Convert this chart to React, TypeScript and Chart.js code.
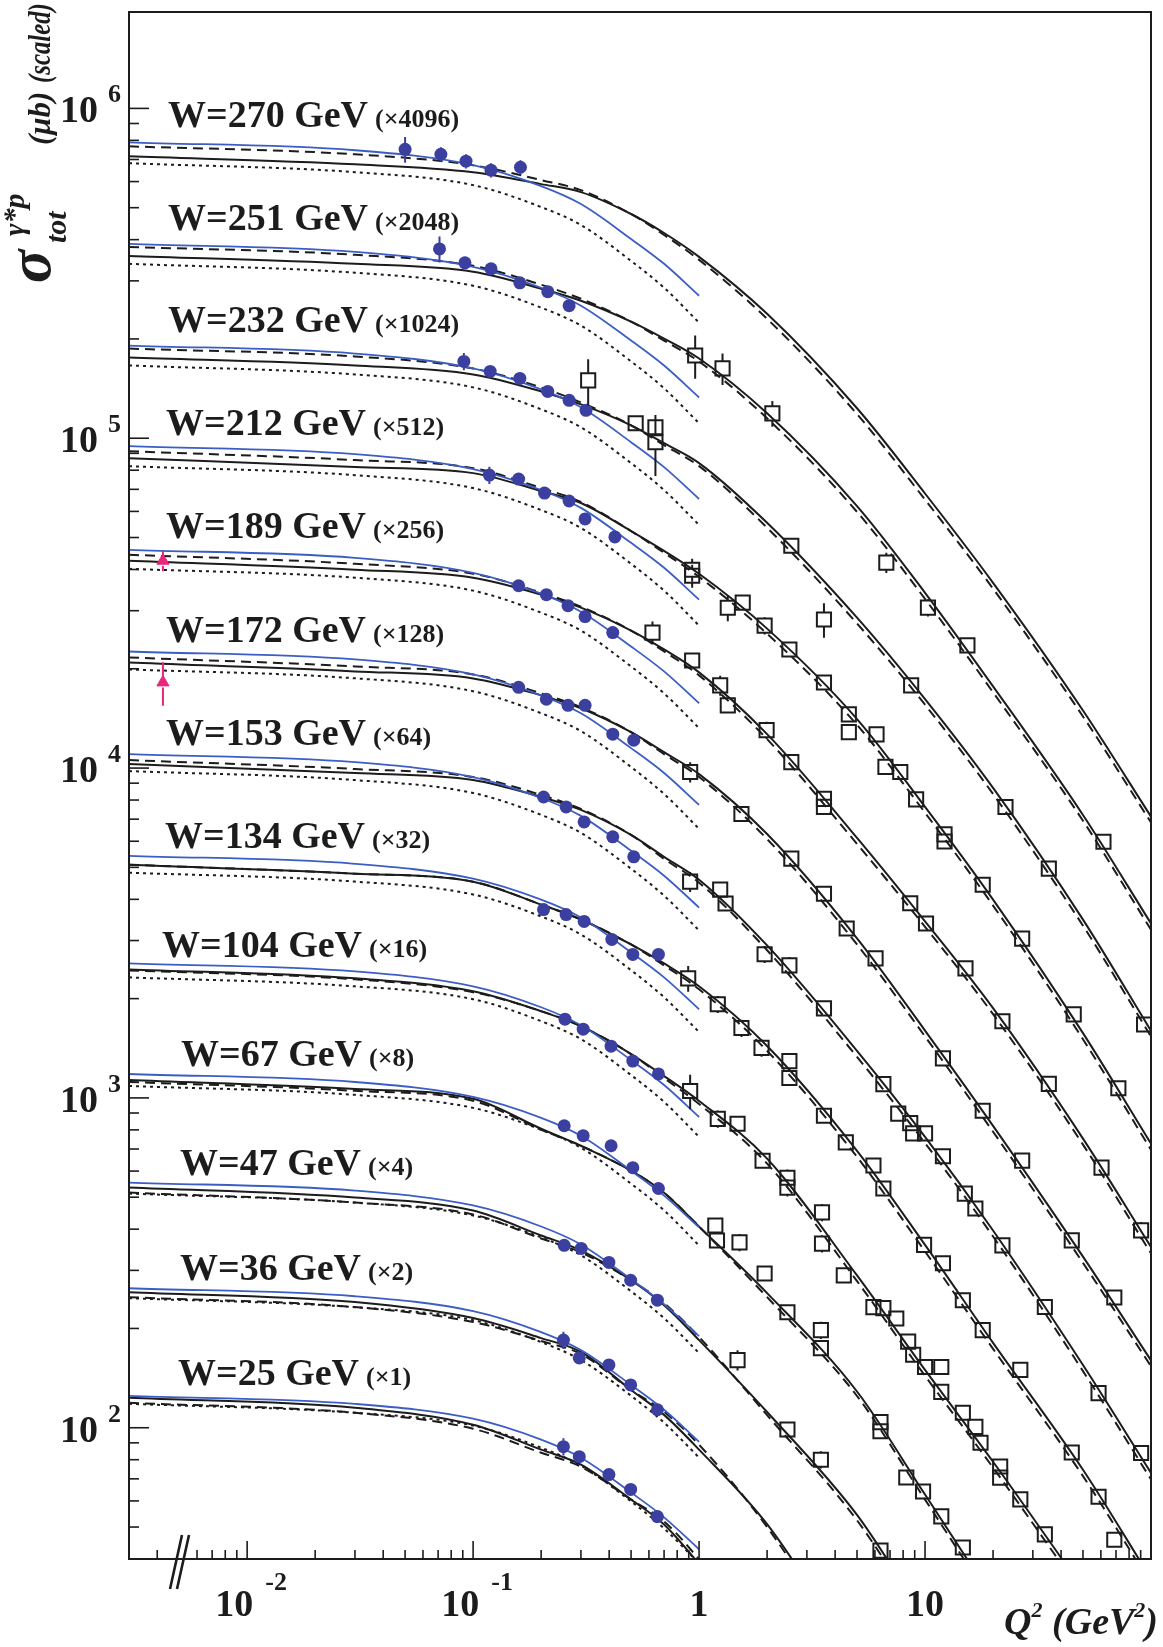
import React, { useEffect, useRef } from "react";
import { Chart, registerables } from "chart.js";

Chart.register(...registerables);

// ---------------- data (σ in μb, unscaled; plotted × scale factor) ----------------
const W_VALUES = [270, 251, 232, 212, 189, 172, 153, 134, 104, 67, 47, 36, 25];
const SCALE_FACTORS = [4096, 2048, 1024, 512, 256, 128, 64, 32, 16, 8, 4, 2, 1];

const Q2_CURVE = [0.003, 0.03, 0.1, 0.2, 0.3, 0.5, 0.7, 1, 2, 5, 10, 20, 50, 100];
const Q2_LOW = [0.003, 0.03, 0.1, 0.2, 0.3, 0.5, 0.7, 1];

// black solid model
const SOLID = [
  [174.8, 165.3, 156.4, 143.9, 136.1, 116.8, 102.3, 86.6, 58.2, 30.1, 16.6, 8.9, 3.65, 1.74],
  [174.4, 165.0, 156.1, 138.7, 127.5, 110.2, 97.9, 85.2, 58.1, 30.4, 16.6, 8.64, 3.52, 1.65],
  [171.5, 162.3, 152.4, 135.4, 123.7, 106.9, 94.3, 82.1, 54.1, 27.9, 15.8, 8.5, 3.39, 1.56],
  [169.9, 159.7, 153.1, 135.1, 124.3, 102.2, 89.0, 75.8, 51.7, 27.5, 14.9, 7.8, 3.07, 1.42],
  [166.1, 156.0, 147.5, 131.1, 119.7, 102.0, 89.4, 76.2, 49.5, 24.0, 13.4, 7.31, 2.94, 1.38],
  [163.3, 153.4, 146.1, 129.8, 118.6, 100.4, 87.3, 74.9, 49.3, 23.8, 12.5, 6.43, 2.58, 1.25],
  [160.7, 150.9, 143.8, 127.7, 116.7, 98.0, 84.1, 71.7, 45.3, 21.7, 11.9, 6.19, 2.42, 1.14],
  [159.2, 149.5, 141.4, 120.5, 108.6, 91.2, 79.9, 68.1, 44.9, 21.6, 11.2, 5.65, 2.33, 1.09],
  [153.3, 144.0, 131.6, 114.5, 103.1, 84.9, 72.8, 61.2, 40.9, 18.1, 9.36, 4.93, 2.03],
  [141.7, 133.1, 124.2, 100.8, 89.5, 75.2, 64.5, 50.9, 32.0, 16.1, 7.84, 3.78],
  [133.7, 124.7, 113.9, 95.7, 86.2, 70.0, 58.8, 46.1, 27.9, 13.6, 6.58],
  [128.8, 120.2, 107.5, 93.5, 84.9, 65.1, 54.7, 42.9, 25.5, 9.96],
  [123.2, 114.9, 102.1, 85.8, 77.3, 60.6, 50.9, 38.6, 21.3],
];

// black dashed model
const DASHED = [
  [187.4, 177.2, 164.2, 148.0, 138.0, 116.8, 100.9, 84.8, 56.2, 28.9, 15.9, 8.54, 3.5, 1.67],
  [185.7, 175.7, 162.7, 142.6, 129.3, 110.2, 96.5, 83.4, 56.1, 29.2, 15.9, 8.29, 3.38, 1.58],
  [182.6, 172.8, 158.9, 139.2, 125.4, 106.9, 93.0, 80.4, 52.3, 26.8, 15.2, 8.15, 3.25, 1.5],
  [178.4, 167.7, 158.5, 138.0, 125.2, 102.2, 87.8, 74.2, 49.9, 26.4, 14.3, 7.48, 2.94, 1.36],
  [173.2, 162.6, 151.7, 132.9, 120.5, 102.0, 88.2, 74.6, 47.8, 23.0, 12.9, 7.01, 2.82, 1.32],
  [169.1, 158.8, 150.2, 131.6, 119.4, 100.4, 86.1, 73.4, 47.6, 22.8, 12.0, 6.17, 2.47, 1.2],
  [165.2, 155.2, 146.8, 129.5, 117.5, 98.0, 82.9, 70.2, 43.8, 20.8, 11.4, 5.94, 2.32, 1.09],
  [159.2, 149.5, 141.4, 120.5, 108.6, 91.2, 78.8, 66.7, 43.4, 20.7, 10.7, 5.42, 2.23, 1.05],
  [152.2, 143.0, 130.7, 114.5, 103.1, 84.9, 71.8, 59.9, 39.5, 17.4, 8.98, 4.73, 1.95],
  [139.7, 131.3, 122.5, 100.1, 89.5, 75.2, 64.5, 50.9, 31.1, 15.6, 7.57, 3.65],
  [129.1, 120.4, 110.8, 93.7, 85.0, 70.0, 59.6, 47.1, 27.3, 13.1, 6.36],
  [124.4, 116.1, 104.6, 91.6, 83.7, 65.1, 55.9, 44.4, 25.0, 9.62],
  [119.0, 111.0, 99.3, 84.0, 76.2, 60.6, 52.0, 39.9, 21.7],
];

// blue model (Q2 <= 1)
const BLUE = [
  [192.7, 182.3, 164.3, 141.9, 125.2, 98.1, 82.5, 66.0],
  [189.6, 179.3, 161.6, 139.6, 123.2, 96.6, 81.1, 64.9],
  [186.5, 176.4, 159.0, 137.3, 121.2, 95.0, 79.8, 63.9],
  [184.8, 174.8, 157.5, 136.1, 120.1, 94.1, 79.1, 63.3],
  [179.2, 169.5, 152.7, 132.0, 116.4, 91.3, 76.7, 61.4],
  [176.3, 166.8, 150.3, 129.8, 114.5, 89.8, 75.5, 60.4],
  [172.2, 162.9, 146.8, 126.8, 111.9, 87.7, 73.7, 59.0],
  [169.4, 160.2, 144.4, 124.7, 110.1, 86.3, 72.5, 58.0],
  [159.8, 151.2, 136.2, 117.7, 103.8, 81.4, 68.4, 54.7],
  [147.7, 139.7, 125.9, 108.8, 96.0, 75.2, 63.2, 50.6],
  [138.4, 130.9, 118.0, 101.9, 89.9, 70.5, 59.2, 47.4],
  [132.4, 125.2, 112.9, 97.5, 86.0, 67.4, 56.7, 45.3],
  [124.9, 118.1, 106.5, 92.0, 81.1, 63.6, 53.5, 42.8],
];

// black dotted model (Q2 <= 1)
const DOTTED = [
  [166.5, 156.4, 142.9, 122.6, 108.2, 84.2, 69.8, 54.7],
  [165.0, 155.0, 141.6, 121.5, 107.2, 83.5, 69.2, 54.2],
  [162.3, 152.4, 139.3, 119.5, 105.4, 82.1, 68.0, 53.3],
  [160.7, 150.9, 137.9, 118.3, 104.4, 81.3, 67.4, 52.8],
  [157.0, 147.5, 134.8, 115.6, 102.0, 79.4, 65.8, 51.6],
  [155.6, 146.2, 133.6, 114.6, 101.1, 78.7, 65.2, 51.1],
  [153.0, 143.7, 131.3, 112.7, 99.4, 77.4, 64.1, 50.3],
  [150.6, 141.5, 129.3, 110.9, 97.8, 76.2, 63.1, 49.5],
  [145.0, 136.2, 124.5, 106.8, 94.2, 73.3, 60.8, 47.6],
  [135.9, 127.7, 116.6, 100.1, 88.3, 68.7, 57.0, 44.6],
  [128.2, 120.4, 110.0, 94.4, 83.3, 64.8, 53.7, 42.1],
  [123.5, 116.0, 106.0, 90.9, 80.2, 62.5, 51.8, 40.6],
  [118.2, 111.0, 101.5, 87.0, 76.8, 59.8, 49.5, 38.8],
];

// low-Q2 measurements (filled blue circles)
const DOT_Q2 = [
  [0.05, 0.072, 0.093, 0.12, 0.162],
  [0.071, 0.092, 0.12, 0.161, 0.214, 0.266],
  [0.091, 0.119, 0.161, 0.214, 0.266, 0.316],
  [0.118, 0.159, 0.207, 0.266, 0.313, 0.424],
  [0.159, 0.211, 0.263, 0.313, 0.415],
  [0.159, 0.211, 0.263, 0.313, 0.415, 0.514],
  [0.205, 0.258, 0.31, 0.415, 0.514],
  [0.205, 0.258, 0.31, 0.411, 0.509, 0.661],
  [0.255, 0.307, 0.408, 0.509, 0.661],
  [0.253, 0.307, 0.408, 0.509, 0.661],
  [0.253, 0.301, 0.399, 0.498, 0.654],
  [0.251, 0.295, 0.399, 0.498, 0.654],
  [0.251, 0.295, 0.399, 0.498, 0.654],
];
const DOT_SIGMA = [
  [183.5, 177.3, 168.9, 158.6, 161.9],
  [183.1, 166.1, 159.3, 144.5, 135.8, 123.2],
  [166.9, 155.7, 148.3, 135.4, 127.2, 118.7],
  [151.0, 146.9, 133.2, 126.0, 111.2, 98.1],
  [139.5, 131.1, 121.4, 112.5, 100.6],
  [137.3, 126.3, 121.1, 121.1, 99.0, 94.9],
  [127.7, 119.1, 107.3, 96.7, 84.1],
  [116.4, 112.4, 107.1, 94.5, 85.1, 85.1],
  [108.3, 101.0, 89.7, 80.8, 73.9],
  [102.9, 96.0, 89.5, 76.8, 66.4],
  [89.3, 87.4, 79.3, 70.0, 60.9],
  [92.2, 81.4, 77.5, 67.4, 56.7],
  [87.6, 81.7, 72.1, 65.0, 53.8],
];
const DOT_ERR = [
  [0.09, 0.05, 0.05, 0.05, 0.05],
  [0.09, 0.03, 0.03, 0.03, 0.03, 0.03],
  [0.06, 0.03, 0.03, 0.03, 0.03, 0.03],
  [0.06, 0.03, 0.03, 0.03, 0.03, 0.03],
  [0.03, 0.03, 0.03, 0.03, 0.03],
  [0.03, 0.03, 0.03, 0.03, 0.03, 0.03],
  [0.03, 0.03, 0.03, 0.03, 0.03],
  [0.03, 0.03, 0.03, 0.03, 0.03, 0.03],
  [0.03, 0.03, 0.03, 0.03, 0.03],
  [0.03, 0.03, 0.03, 0.03, 0.03],
  [0.03, 0.03, 0.03, 0.03, 0.03],
  [0.06, 0.03, 0.03, 0.03, 0.03],
  [0.06, 0.03, 0.03, 0.03, 0.03],
];

// higher-Q2 measurements (open squares): [Q2, sigma, relative error]
const SQUARES = [
  [],
  [[0.961, 87.0, 0.15], [1.27, 79.5, 0.11], [2.11, 58.1, 0.09], [6.74, 20.5, 0.07], [10.3, 14.96, 0.06], [15.4, 11.5, 0.05], [61.6, 2.92, 0.05]],
  [[0.323, 146.2, 0.16], [0.524, 108.4, 0.05], [0.641, 105.4, 0.05], [0.641, 94.97, 0.21], [2.56, 46.1, 0.05], [8.68, 17.4, 0.05], [22.7, 7.44, 0.05], [35.3, 4.84, 0.05], [93.2, 1.63, 0.05]],
  [[0.932, 78.0, 0.08], [0.932, 74.8, 0.08], [1.34, 59.8, 0.09], [1.56, 62.0, 0.05], [1.95, 52.8, 0.06], [2.51, 44.7, 0.05], [3.57, 55.1, 0.12], [3.57, 35.5, 0.05], [4.6, 28.4, 0.05], [4.6, 25.1, 0.05], [6.1, 24.7, 0.05], [6.68, 19.7, 0.05], [7.77, 19.0, 0.05], [9.13, 15.7, 0.05], [12.2, 12.3, 0.05], [12.2, 11.7, 0.05], [18.0, 8.65, 0.05], [26.9, 5.94, 0.05], [45.5, 3.5, 0.05], [71.7, 2.09, 0.05]],
  [[0.622, 100.6, 0.08], [0.932, 82.8, 0.05], [1.24, 69.6, 0.07], [1.34, 60.5, 0.05], [1.99, 50.9, 0.06], [2.56, 40.7, 0.05], [3.57, 31.5, 0.05], [3.57, 29.8, 0.05], [8.6, 15.2, 0.05], [10.1, 13.2, 0.05], [15.1, 9.65, 0.05], [22.0, 6.67, 0.05], [35.3, 4.31, 0.05], [60.4, 2.4, 0.05], [90.4, 1.55, 0.06]],
  [[0.913, 76.0, 0.07], [1.54, 56.7, 0.05], [2.56, 41.5, 0.05], [3.57, 32.5, 0.05], [4.5, 25.5, 0.05], [6.04, 20.7, 0.05], [12.0, 10.3, 0.05], [18.0, 7.14, 0.05], [26.9, 5.04, 0.05], [44.6, 2.89, 0.05], [68.8, 1.94, 0.05]],
  [[0.913, 70.7, 0.07], [1.24, 66.9, 0.05], [1.31, 60.7, 0.05], [1.95, 42.6, 0.06], [2.51, 39.4, 0.06], [3.57, 29.2, 0.05], [6.54, 17.2, 0.05], [7.61, 14.0, 0.05], [8.6, 13.1, 0.05], [8.86, 12.2, 0.05], [10.0, 12.2, 0.05], [12.0, 10.4, 0.05], [15.0, 8.01, 0.05], [16.7, 7.22, 0.05], [22.0, 5.58, 0.05], [33.9, 3.63, 0.05], [58.6, 1.99, 0.05], [90.4, 1.31, 0.05]],
  [[0.895, 72.0, 0.09], [1.21, 60.1, 0.06], [1.54, 50.9, 0.06], [1.89, 44.3, 0.06], [2.51, 40.4, 0.05], [2.51, 35.9, 0.05], [3.57, 27.6, 0.05], [4.46, 22.9, 0.05], [5.91, 19.5, 0.05], [6.54, 16.6, 0.05], [9.9, 11.2, 0.05], [12.0, 9.85, 0.05], [14.7, 7.61, 0.05], [18.0, 6.18, 0.05], [26.4, 4.68, 0.05], [44.6, 2.63, 0.05], [58.6, 1.93, 0.05], [68.8, 1.43, 0.05]],
  [[0.913, 65.6, 0.12], [1.21, 54.0, 0.06], [1.48, 52.2, 0.05], [1.91, 40.3, 0.05], [2.46, 35.8, 0.06], [2.46, 33.4, 0.06], [3.5, 28.1, 0.06], [3.5, 22.6, 0.06], [4.37, 18.1, 0.05], [5.91, 14.5, 0.05], [6.54, 14.4, 0.05], [7.46, 13.4, 0.05], [8.42, 11.4, 0.05], [8.86, 10.4, 0.05], [10.0, 9.55, 0.05], [11.8, 9.55, 0.05], [11.8, 8.03, 0.05], [14.7, 6.94, 0.05], [16.7, 6.29, 0.05], [17.6, 5.63, 0.05], [21.5, 4.77, 0.05], [21.5, 4.41, 0.05], [26.4, 3.79, 0.05], [33.9, 2.97, 0.05]],
  [[1.18, 51.3, 0.05], [1.2, 46.2, 0.05], [1.51, 45.6, 0.06], [1.95, 36.7, 0.05], [2.46, 28.0, 0.05], [3.46, 24.7, 0.06], [3.46, 21.8, 0.05], [6.35, 13.0, 0.05], [6.35, 12.2, 0.05], [8.26, 8.83, 0.05], [9.8, 8.01, 0.05], [11.8, 6.73, 0.05], [14.7, 5.42, 0.05]],
  [[1.48, 40.1, 0.07], [2.46, 24.7, 0.05], [3.46, 20.0, 0.06], [6.35, 10.6, 0.05]],
  [],
  [],
];

// photoproduction points (pink triangles): [W index, Q2 position, sigma, relative error]
const PHOTO_POINTS = [
  [4, 0.00424, 166.1, 0.07],
  [5, 0.00424, 142.1, 0.15],
];

// axis settings
const X_MIN = 0.003;
const X_MAX = 100;
const Y_MIN = 40;
const Y_MAX = 1.96e6;
const X_TICK_LABELS = [
  { v: 0.01, base: "10", exp: "-2" },
  { v: 0.1, base: "10", exp: "-1" },
  { v: 1, base: "1", exp: "" },
  { v: 10, base: "10", exp: "" },
];
const Y_TICK_EXPONENTS = [2, 3, 4, 5, 6];

// ---------------- layout / style ----------------
const W_LABEL_X = [168, 168, 168, 166, 166, 166, 166, 165, 162, 181, 180, 180, 178];
const W_LABEL_BASELINE = [127, 230, 332, 435, 538, 642, 745, 848, 957, 1066, 1175, 1280, 1385];
const FONT = '"Liberation Serif", "Times New Roman", serif';
const INK = "#1c1c1c";
const DOT_COLOR = "#3b3f9f";
const BLUE_LINE = "#3c5ec4";
const PINK = "#e8267c";

const decorPlugin = {
  id: "decor",
  afterDatasetsDraw(chart: any) {
    const ctx = chart.ctx;
    const ys = chart.scales.y;
    const { left, right, top, bottom } = chart.chartArea;
    ctx.save();
    ctx.beginPath();
    ctx.rect(left, top, right - left, bottom - top);
    ctx.clip();
    chart.data.datasets.forEach((ds: any, di: number) => {
      if (!ds.errFrac) return;
      const meta = chart.getDatasetMeta(di);
      ctx.strokeStyle = ds.errColor || INK;
      ctx.lineWidth = 2;
      meta.data.forEach((pt: any, j: number) => {
        const e = ds.errFrac[j];
        if (!e) return;
        const val = ds.data[j].y;
        const yHi = ys.getPixelForValue(val * (1 + e));
        const yLo = ys.getPixelForValue(val * (1 - e));
        const h = ds.markerHalf || 0;
        ctx.beginPath();
        if (pt.y - h > yHi) {
          ctx.moveTo(pt.x, pt.y - h);
          ctx.lineTo(pt.x, yHi);
        }
        if (yLo > pt.y + h) {
          ctx.moveTo(pt.x, pt.y + h);
          ctx.lineTo(pt.x, yLo);
        }
        ctx.stroke();
      });
    });
    ctx.restore();
  },
  afterDraw(chart: any) {
    const ctx = chart.ctx;
    const xs = chart.scales.x;
    const ys = chart.scales.y;
    const { left, right, top, bottom } = chart.chartArea;
    ctx.save();
    ctx.strokeStyle = INK;
    ctx.fillStyle = INK;
    // frame
    ctx.lineWidth = 2;
    ctx.strokeRect(left, top, right - left, bottom - top);
    // ticks
    ctx.lineWidth = 1.6;
    for (let e = -3; e <= 2; e++) {
      for (let m = 1; m <= 9; m++) {
        const v = m * Math.pow(10, e);
        if (v < X_MIN * 1.001 || v > X_MAX * 0.999) continue;
        if (Math.abs(v - 0.005) < 1e-9) continue; // hidden by the axis break
        const px = xs.getPixelForValue(v);
        const len = m === 1 ? 18 : 9;
        ctx.beginPath();
        ctx.moveTo(px, bottom);
        ctx.lineTo(px, bottom - len);
        ctx.stroke();
      }
    }
    for (let e = 1; e <= 6; e++) {
      for (let m = 1; m <= 9; m++) {
        const v = m * Math.pow(10, e);
        if (v < Y_MIN * 1.001 || v > Y_MAX * 0.999) continue;
        const py = ys.getPixelForValue(v);
        const len = m === 1 ? 20 : 10;
        ctx.beginPath();
        ctx.moveTo(left, py);
        ctx.lineTo(left + len, py);
        ctx.stroke();
      }
    }
    // axis break "//"
    ctx.lineWidth = 2.6;
    ctx.beginPath();
    ctx.moveTo(170, bottom + 30);
    ctx.lineTo(182, bottom - 24);
    ctx.moveTo(177, bottom + 30);
    ctx.lineTo(189, bottom - 24);
    ctx.stroke();

    // y tick labels
    ctx.textBaseline = "alphabetic";
    Y_TICK_EXPONENTS.forEach((e) => {
      const py = ys.getPixelForValue(Math.pow(10, e));
      ctx.font = `bold 38px ${FONT}`;
      ctx.textAlign = "right";
      ctx.fillText("10", 98, py + 14);
      ctx.font = `bold 26px ${FONT}`;
      ctx.textAlign = "left";
      ctx.fillText(String(e), 108, py - 6);
    });
    // x tick labels
    X_TICK_LABELS.forEach((t) => {
      const px = xs.getPixelForValue(t.v);
      ctx.textAlign = "left";
      ctx.font = `bold 38px ${FONT}`;
      const wb = ctx.measureText(t.base).width;
      if (t.exp) {
        ctx.font = `bold 26px ${FONT}`;
        const we = ctx.measureText(t.exp).width;
        const total = wb + 12 + we;
        const x0 = px + 4 - total / 2;
        ctx.font = `bold 38px ${FONT}`;
        ctx.fillText(t.base, x0, bottom + 57);
        ctx.font = `bold 26px ${FONT}`;
        ctx.fillText(t.exp, x0 + wb + 12, bottom + 31);
      } else {
        ctx.fillText(t.base, px - wb / 2, bottom + 57);
      }
    });
    // x title: Q^2 (GeV^2)
    {
      const parts = [
        { t: "Q", f: `bold italic 38px ${FONT}`, dy: 0 },
        { t: "2", f: `bold italic 22px ${FONT}`, dy: -17 },
        { t: " (GeV", f: `bold italic 38px ${FONT}`, dy: 0 },
        { t: "2", f: `bold italic 22px ${FONT}`, dy: -17 },
        { t: ")", f: `bold italic 38px ${FONT}`, dy: 0 },
      ];
      let total = 0;
      parts.forEach((p) => {
        ctx.font = p.f;
        total += ctx.measureText(p.t).width;
      });
      let x = 1158 - total;
      ctx.textAlign = "left";
      parts.forEach((p) => {
        ctx.font = p.f;
        ctx.fillText(p.t, x, bottom + 75 + p.dy);
        x += ctx.measureText(p.t).width;
      });
    }
    // y title (rotated, reads bottom to top)
    {
      ctx.save();
      ctx.translate(50, 283);
      ctx.rotate(-Math.PI / 2);
      ctx.textAlign = "left";
      ctx.font = `bold italic 62px ${FONT}`;
      ctx.fillText("σ", 0, 0);
      ctx.font = `bold italic 30px ${FONT}`;
      ctx.fillText("γ*p", 47, -26);
      ctx.fillText("tot", 40, 16);
      ctx.font = `bold italic 31px ${FONT}`;
      ctx.fillText("(μb)", 138, 0);
      ctx.save();
      ctx.translate(200, 0);
      ctx.scale(0.8, 1);
      ctx.fillText("(scaled)", 0, 0);
      ctx.restore();
      ctx.restore();
    }
    // W labels
    W_VALUES.forEach((w, i) => {
      ctx.textAlign = "left";
      ctx.font = `bold 38px ${FONT}`;
      const txt = `W=${w} GeV`;
      ctx.fillText(txt, W_LABEL_X[i], W_LABEL_BASELINE[i]);
      const wt = ctx.measureText(txt).width;
      ctx.font = `bold 26px ${FONT}`;
      ctx.fillText(`(×${SCALE_FACTORS[i]})`, W_LABEL_X[i] + wt + 7, W_LABEL_BASELINE[i]);
    });
    ctx.restore();
  },
};

export default function App() {
  const ref = useRef<HTMLCanvasElement>(null);

  useEffect(() => {
    const canvas = ref.current;
    if (!canvas) return;
    const datasets: any[] = [];
    W_VALUES.forEach((w, i) => {
      const s = SCALE_FACTORS[i];
      const curve = (vals: number[], q: number[], extra: any) => ({
        data: vals.map((v, j) => ({ x: q[j], y: v * s })),
        showLine: true,
        pointRadius: 0,
        pointHoverRadius: 0,
        pointHitRadius: 0,
        fill: false,
        cubicInterpolationMode: "monotone",
        ...extra,
      });
      datasets.push(curve(DOTTED[i], Q2_LOW, { label: `dotted ${w}`, borderColor: INK, borderWidth: 2, borderDash: [3, 4], order: 5 }));
      datasets.push(curve(DASHED[i], Q2_CURVE, { label: `dashed ${w}`, borderColor: INK, borderWidth: 2, borderDash: [10, 6], order: 4 }));
      datasets.push(curve(SOLID[i], Q2_CURVE, { label: `solid ${w}`, borderColor: INK, borderWidth: 2, order: 3 }));
      datasets.push(curve(BLUE[i], Q2_LOW, { label: `blue ${w}`, borderColor: BLUE_LINE, borderWidth: 1.8, order: 2 }));
      datasets.push({
        label: `low-Q2 data ${w}`,
        data: DOT_Q2[i].map((q, j) => ({ x: q, y: DOT_SIGMA[i][j] * s })),
        showLine: false,
        pointStyle: "circle",
        pointRadius: 6.5,
        pointHoverRadius: 6.5,
        pointBackgroundColor: DOT_COLOR,
        pointBorderColor: DOT_COLOR,
        pointBorderWidth: 0,
        order: 1,
        errFrac: DOT_ERR[i],
        markerHalf: 6,
        errColor: DOT_COLOR,
      });
      const sq = SQUARES[i] as number[][];
      if (sq.length) {
        datasets.push({
          label: `high-Q2 data ${w}`,
          data: sq.map((p) => ({ x: p[0], y: p[1] * s })),
          showLine: false,
          pointStyle: "rect",
          pointRadius: 10,
          pointHoverRadius: 10,
          pointBackgroundColor: "rgba(0,0,0,0)",
          pointBorderColor: INK,
          pointBorderWidth: 2,
          order: 0,
          errFrac: sq.map((p) => p[2]),
          markerHalf: 7,
          errColor: INK,
        });
      }
    });
    PHOTO_POINTS.forEach((p) => {
      const i = p[0];
      datasets.push({
        label: `photoproduction ${W_VALUES[i]}`,
        data: [{ x: p[1], y: p[2] * SCALE_FACTORS[i] }],
        showLine: false,
        pointStyle: "triangle",
        pointRadius: 7,
        pointHoverRadius: 7,
        pointBackgroundColor: PINK,
        pointBorderColor: PINK,
        pointBorderWidth: 1,
        order: 0,
        errFrac: [p[3]],
        markerHalf: 5,
        errColor: PINK,
      });
    });

    const chart = new Chart(canvas, {
      type: "line",
      data: { datasets },
      options: {
        animation: false,
        responsive: false,
        devicePixelRatio: 1,
        events: [],
        layout: { padding: { left: 129, right: 3, top: 7, bottom: 88 } },
        plugins: { legend: { display: false }, tooltip: { enabled: false } },
        scales: {
          x: { type: "logarithmic", min: X_MIN, max: X_MAX, display: false },
          y: { type: "logarithmic", min: Y_MIN, max: Y_MAX, display: false },
        },
      } as any,
      plugins: [decorPlugin as any],
    });
    return () => chart.destroy();
  }, []);

  return (
    <div style={{ position: "absolute", left: 0, top: 0, width: 1163, height: 1647, background: "#fff" }}>
      <canvas ref={ref} width={1163} height={1647} style={{ display: "block" }} />
    </div>
  );
}
